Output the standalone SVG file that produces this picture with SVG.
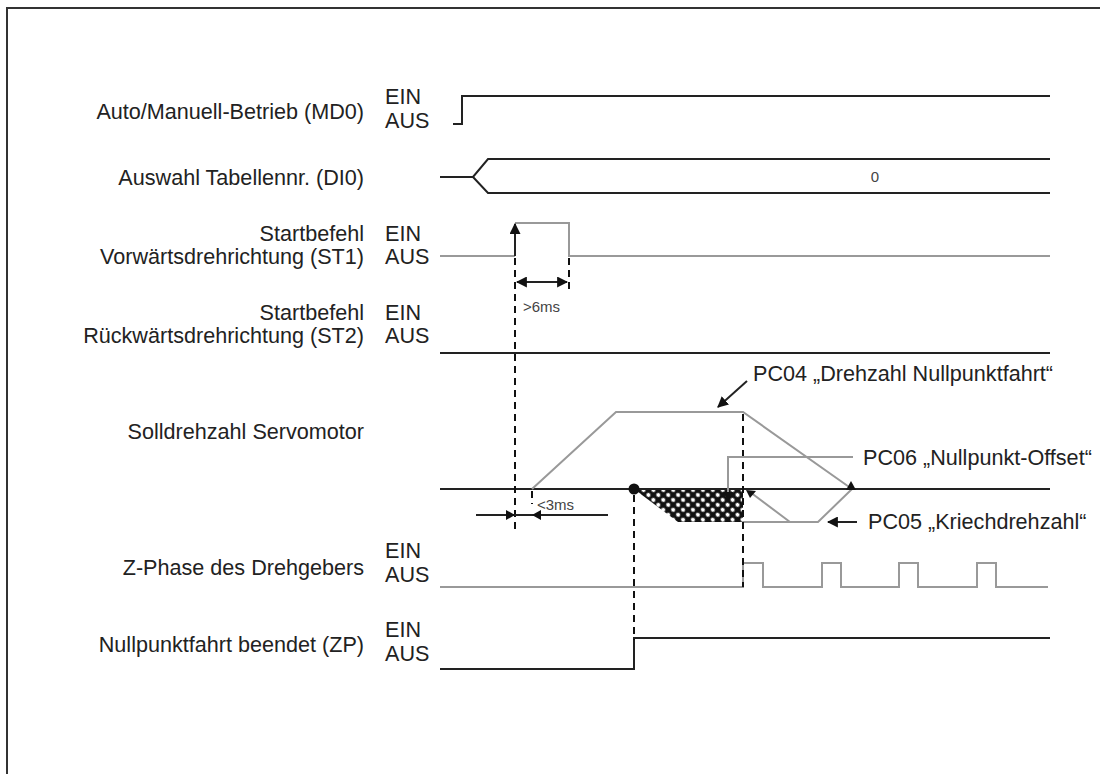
<svg xmlns="http://www.w3.org/2000/svg" width="1100" height="774" viewBox="0 0 1100 774">
<style>
text{font-family:"Liberation Sans",Arial,sans-serif;fill:#222}
.lbl{font-size:21.6px;text-anchor:end}
.st{font-size:21.6px}
.sm{font-size:15px;fill:#444}
.blk{fill:none;stroke:#222;stroke-width:2}
.gry{fill:none;stroke:#999;stroke-width:2}
.dash{fill:none;stroke:#111;stroke-width:2;stroke-dasharray:7,5}
.ah{fill:#111}
</style>
<defs>
<marker id="arr" viewBox="0 0 10 10" refX="9" refY="5" markerWidth="5.5" markerHeight="5.5" orient="auto-start-reverse" markerUnits="strokeWidth"><path d="M0,0 L10,5 L0,10 Z" fill="#111"/></marker>
<pattern id="hatch" width="7" height="7" patternUnits="userSpaceOnUse" patternTransform="rotate(45)"><rect width="7" height="7" fill="#111"/><circle cx="3.5" cy="3.5" r="2.1" fill="#fff"/></pattern>
</defs>
<path d="M7,774 V8 H1100" fill="none" stroke="#333" stroke-width="2"/>

<g id="md0">
<text class="lbl" x="364" y="119">Auto/Manuell-Betrieb (MD0)</text>
<text class="st" x="385" y="104">EIN</text>
<text class="st" x="385" y="128">AUS</text>
<path class="blk" d="M453,124 H462 V96 H1050"/>
</g>

<g id="di0">
<text class="lbl" x="364" y="185">Auswahl Tabellennr. (DI0)</text>
<path class="blk" d="M440,177 H473 L488,159 H1050 M473,177 L488,193 H1050"/>
<text class="sm" x="875" y="182" text-anchor="middle">0</text>
</g>

<g id="st1">
<text class="lbl" x="364" y="241">Startbefehl</text>
<text class="lbl" x="364" y="264">Vorwärtsdrehrichtung (ST1)</text>
<text class="st" x="385" y="241">EIN</text>
<text class="st" x="385" y="264">AUS</text>
<path class="gry" d="M440,256 H515 M515,223 H569 V256 H1050"/>
<path class="blk" d="M515,256 V224" marker-end="url(#arr)"/>
</g>

<g id="st2">
<text class="lbl" x="364" y="320">Startbefehl</text>
<text class="lbl" x="364" y="343">Rückwärtsdrehrichtung (ST2)</text>
<text class="st" x="385" y="320">EIN</text>
<text class="st" x="385" y="343">AUS</text>
<path class="blk" d="M440,353 H1050"/>
</g>

<g id="speed">
<text class="lbl" x="364" y="439">Solldrehzahl Servomotor</text>
<path d="M634,489 L678,522 L743,522 L743,489 Z" fill="url(#hatch)"/>
<path class="blk" d="M440,489 H1050"/>
<path class="gry" d="M532,489 L616,412 H743 L852,489"/>
<path class="gry" d="M743,522 H818 L852,489 M750,492 L790,522"/>
<circle cx="634" cy="489" r="5.5" fill="#111"/>
<path class="ah" d="M846,490 L851,481 L856,490 Z"/>
<path class="ah" d="M746,490 L756,491 L750,498 Z"/>
</g>

<g id="zphase">
<text class="lbl" x="364" y="575">Z-Phase des Drehgebers</text>
<text class="st" x="385" y="558">EIN</text>
<text class="st" x="385" y="582">AUS</text>
<path class="gry" d="M440,587 H743 V563 H763 V587 H822 V563 H841 V587 H899 V563 H918 V587 H977 V563 H996 V587 H1048"/>
</g>

<g id="zp">
<text class="lbl" x="364" y="652">Nullpunktfahrt beendet (ZP)</text>
<text class="st" x="385" y="637">EIN</text>
<text class="st" x="385" y="661">AUS</text>
<path class="blk" d="M440,669 H634 V638 H1050"/>
</g>

<g id="annotations">
<text class="st" x="753" y="381">PC04 „Drehzahl Nullpunktfahrt“</text>
<text class="st" x="863" y="465">PC06 „Nullpunkt-Offset“</text>
<text class="st" x="868" y="529">PC05 „Kriechdrehzahl“</text>
<text class="sm" x="523" y="312">&gt;6ms</text>
<text class="sm" x="537" y="510">&lt;3ms</text>
</g>

<g id="connectors">
<path class="dash" d="M515,258 V530"/>
<path class="dash" d="M569,258 V292"/>
<path class="dash" d="M532,491 V504"/>
<path class="dash" d="M743,414 V587"/>
<path class="dash" d="M634,495 V640"/>
<path class="blk" d="M517,282 H567" marker-start="url(#arr)" marker-end="url(#arr)"/>
<path class="blk" d="M476,515 H608"/>
<path class="ah" d="M506,510 L515,515 L506,520 Z M541,510 L532,515 L541,520 Z"/>
<path class="blk" d="M747,381 L718,407" marker-end="url(#arr)"/>
<path class="blk" d="M857,522 H828" marker-end="url(#arr)"/>
<path class="gry" d="M853,457 H728 V494"/>
<path class="ah" d="M723,492 L733,492 L728,501 Z"/>
</g>
</svg>
